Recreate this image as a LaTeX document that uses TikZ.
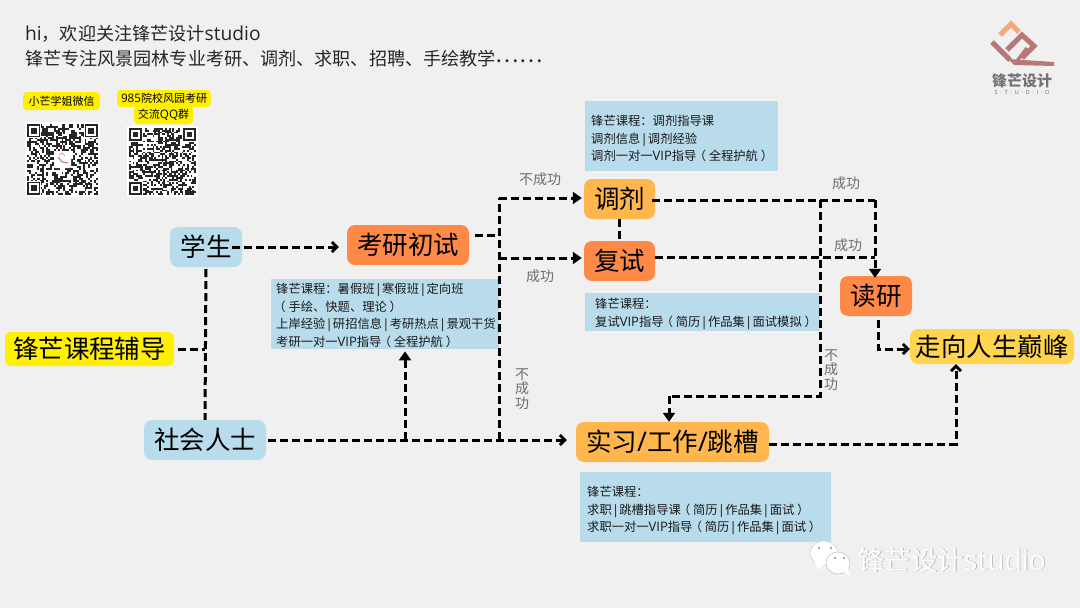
\documentclass[tikz,border=0pt]{standalone}
\usepackage{fontspec}
\setmainfont{Noto Sans CJK SC}
\newfontfamily\latf[Scale=1.06]{Open Sans}
\usetikzlibrary{arrows.meta,calc}
\definecolor{bgc}{HTML}{F0F0F0}
\definecolor{bluec}{HTML}{B9DCEC}
\definecolor{orangec}{HTML}{FF8A47}
\definecolor{ambc}{HTML}{FFB74D}
\definecolor{topc}{HTML}{FFD54F}
\definecolor{yelc}{HTML}{FFF000}
\definecolor{grayc}{HTML}{6E6E6E}
\definecolor{logob}{HTML}{B87878}
\definecolor{logoo}{HTML}{F5A878}
\newcommand{\La}[1]{{\latf #1}}
\newcommand{\sepb}{\hspace{0.2pt}\La{|}\hspace{0.2pt}}
\newcommand{\lpar}{\rlap{\hspace{-.22em}（}\hspace{1em}}
\newcommand{\rpar}{\rlap{\hspace{.22em}）}\hspace{1em}}
\tikzset{
  x=1pt,y=-1pt,
  stage/.style={rounded corners=8pt,inner sep=0pt,font=\fontsize{25.5}{28}\selectfont,text=black},
  bluestage/.style={stage,fill=bluec,minimum height=40pt},
  orangestage/.style={stage,fill=orangec,minimum height=40pt},
  ambstage/.style={stage,fill=ambc,minimum height=40pt},
  panel/.style={fill=bluec,inner sep=0pt,anchor=north west},
  paneltext/.style={inner sep=0pt,anchor=west,align=left,font=\fontsize{12.3}{17.5}\selectfont,text=black!90},
  tag/.style={fill=yelc,rounded corners=4pt,inner sep=0pt,font=\fontsize{11}{13}\selectfont,text=black},
  note/.style={font=\fontsize{14}{14.5}\selectfont,text=grayc,inner sep=0pt,align=center},
  conn/.style={line width=3pt,dash pattern=on 8pt off 4pt,black},
  solidhead/.style={-{Triangle[length=9pt,width=12pt]}},
  barbhead/.style={-{Straight Barb[length=5pt,width=10pt,line width=2.8pt]}},
  headline/.style={font=\fontsize{18.1}{25}\selectfont,anchor=west,inner sep=0pt,text=black!85},
}
\newcommand{\qrpic}[4]{% x, y, size, seed
  \pgfmathsetseed{#4}
  \fill[white] (#1-2,#2-2) rectangle (#1+#3+2,#2+#3+2);
  \pgfmathsetmacro{\qm}{#3/37}
  \foreach \qi in {0,...,36}{\foreach \qj in {0,...,36}{
    \pgfmathrandominteger{\qr}{0}{1}
    \ifnum\qr=1
      \fill[black!85] ({#1+\qi*\qm},{#2+\qj*\qm}) rectangle ++(\qm,\qm);
    \fi
  }}
  \foreach \qa/\qb in {0/0,30/0,0/30}{
    \fill[white] ({#1+(\qa-0.5)*\qm},{#2+(\qb-0.5)*\qm}) rectangle ++({8*\qm},{8*\qm});
    \fill[black!85] ({#1+\qa*\qm},{#2+\qb*\qm}) rectangle ++({7*\qm},{7*\qm});
    \fill[white] ({#1+(\qa+1)*\qm},{#2+(\qb+1)*\qm}) rectangle ++({5*\qm},{5*\qm});
    \fill[black!85] ({#1+(\qa+2)*\qm},{#2+(\qb+2)*\qm}) rectangle ++({3*\qm},{3*\qm});
  }
}
\begin{document}
\begin{tikzpicture}
\useasboundingbox (0,0) rectangle (1080,608);
\fill[bgc] (0,0) rectangle (1080,608);

% header
\node[headline] (h1) at (25,34) {\La{hi}，欢迎关注锋芒设计\La{studio}};
\node[headline] (h2) at (25,59) {锋芒专注风景园林专业考研、调剂、求职、招聘、手绘教学\raisebox{3.5pt}{\fontsize{22}{25}\selectfont……}};

% logo
\draw[logoo,line width=5pt,line join=miter] (1000,35) -- (1011,24) -- (1019,32);
\draw[logob,line width=5pt] (992,42) -- (1010,60);
\draw[logob,line width=5pt] (1007,50) -- (1022,35) -- (1034,46) -- (1022,58);
\draw[logob,line width=3.5pt] (1017,61) -- (1027,48);
\fill[logob] (1008,59) -- (1054,62) -- (1054,66) -- (1014,65) -- cycle;
\node[font=\fontsize{15}{17}\selectfont\bfseries,text=black!55,inner sep=0pt] (lg1) at (1022,81) {锋芒设计};
\node[font=\fontsize{5.5}{6}\selectfont\latf,text=black!55,inner sep=0pt] (lg2) at (1022,92) {S\hspace{2.6pt}·\hspace{2.6pt}T\hspace{2.6pt}·\hspace{2.6pt}U\hspace{2.6pt}·\hspace{2.6pt}D\hspace{2.6pt}·\hspace{2.6pt}I\hspace{2.6pt}·\hspace{2.6pt}O};

% QR codes
\node[tag,minimum width=77pt,minimum height=18pt] (t1) at (61.5,101) {小芒学姐微信};
\node[tag,minimum width=94pt,minimum height=17pt] (t2) at (164,98.5) {\La{985}院校风园考研};
\node[tag,minimum width=59pt,minimum height=18pt] (t3) at (163.5,115) {交流\La{QQ}群};
\qrpic{27}{124}{71}{11}
\qrpic{129}{128}{67}{29}
\fill[white,rounded corners=1pt] (54,151) rectangle (71,168);
\draw[logob,line width=1pt] (58,157) -- (62,162) -- (68,163);
\draw[logoo,line width=1pt] (59,155) -- (62,153) -- (65,156);

% panels
\node[panel,minimum width=193pt,minimum height=70pt] (p1) at (585,101) {};
\node[paneltext] (p1t) at (591,138.5) {锋芒课程：调剂指导课\\调剂信息\sepb 调剂经验\\调剂一对一\La{VIP}指导\lpar 全程护航\rpar};
\node[panel,minimum width=228pt,minimum height=70pt] (p2) at (271,279) {};
\node[paneltext] (p2t) at (276,315.5) {锋芒课程：暑假班\sepb 寒假班\sepb 定向班\\\lpar 手绘、快题、理论\rpar\\上岸经验\sepb 研招信息\sepb 考研热点\sepb 景观干货\\考研一对一\La{VIP}指导\lpar 全程护航\rpar};
\node[panel,minimum width=235pt,minimum height=38pt] (p3) at (585,293) {};
\node[paneltext] (p3t) at (595,314) {锋芒课程：\\复试\La{VIP}指导\lpar 简历\sepb 作品集\sepb 面试模拟\rpar};
\node[panel,minimum width=251pt,minimum height=70pt] (p4) at (580,472) {};
\node[paneltext] (p4t) at (587,510.5) {锋芒课程：\\求职\sepb 跳槽指导课\lpar 简历\sepb 作品集\sepb 面试\rpar\\求职一对一\La{VIP}指导\lpar 简历\sepb 作品集\sepb 面试\rpar};

% stages
\node[bluestage,minimum width=72pt] (xs) at (206,247) {学生};
\node[orangestage,minimum width=122pt] (ky) at (408,245) {考研初试};
\node[stage,fill=yelc,minimum width=169pt,minimum height=34pt,rounded corners=6pt] (fd) at (89.5,349) {锋芒课程辅导};
\node[bluestage,minimum width=122pt] (sh) at (205,440) {社会人士};
\node[ambstage,minimum width=71pt] (tj) at (619.5,199) {调剂};
\node[orangestage,minimum width=71pt] (fs) at (619.5,261) {复试};
\node[orangestage,minimum width=72pt] (dy) at (876,296) {读研};
\node[stage,fill=topc,minimum width=164pt,minimum height=35pt] (rs) at (992,346.5) {走向人生巅峰};
\node[ambstage,minimum width=193pt] (sx) at (672.5,442) {实习\La{/}工作\La{/}跳槽};

% junctions
\coordinate (ja) at (499,198);
\coordinate (jb) at (499,235);
\coordinate (jc) at (499,258);
\coordinate (jd) at (499,440);
\coordinate (je) at (405,440);
\coordinate (jf) at (820,200);
\coordinate (jg) at (875,200);
\coordinate (jh) at (875,257);
\coordinate (jj) at (820,396);
\coordinate (jk) at (669,396);
\coordinate (jl) at (878,349);
\coordinate (jm) at (956,444);
\coordinate (jn) at (205,349);

% connectors
\draw[conn,barbhead,shorten <=-10pt,shorten >=8pt] (xs.east) -- (xs.east -| ky.west);
\draw[conn,shorten <=2pt] (xs.south) -- (sh.north);
\draw[conn,shorten <=4pt] (fd.east) -- (jn);
\draw[conn,shorten <=6pt] (ky.east |- jb) -- (jb);
\draw[conn] (jd) -- (ja);
\draw[conn,solidhead,shorten >=2pt] (ja) -- (ja -| tj.west);
\draw[conn,solidhead,shorten >=2pt] (jc) -- (jc -| fs.west);
\draw[conn,barbhead,shorten <=2pt,shorten >=9pt] (sh.east) -- (sh.east -| sx.west);
\draw[conn,solidhead,shorten >=2pt] (je) -- (je |- p2.south);
\draw[conn] (tj.south) -- (fs.north);
\draw[conn,shorten <=-3pt] (jf -| tj.east) -- (jg);
\draw[conn,solidhead,shorten >=-2pt] (jg) -- (jg |- dy.north);
\draw[conn] (jh -| fs.east) -- (jh);
\draw[conn] (jf) -- (jj) -- (jk);
\draw[conn,solidhead] (jk) -- (jk |- sx.north);
\draw[conn,barbhead,shorten <=4pt] (jl |- dy.south) -- (jl) -- (jl -| rs.west);
\draw[conn,barbhead] (jm -| sx.east) -- (jm) -- (jm |- rs.south);

% labels
\node[note] (n1) at (540,179) {不成功};
\node[note] (n2) at (540,276) {成功};
\node[note] (n3) at (522,389) {不\\成\\功};
\node[note] (n4) at (846,183) {成功};
\node[note] (n5) at (848,245) {成功};
\node[note] (n6) at (831,370) {不\\成\\功};

% watermark
\fill[white,draw=black!20,line width=.5pt] (824,553) ellipse (14 and 12);
\fill[white] (815,561) -- (818,570) -- (826,563) -- cycle;
\fill[white,draw=black!25,line width=.5pt] (838,563) ellipse (12 and 11);
\fill[white] (843,571) -- (850,577) -- (848,568) -- cycle;
\foreach \wx/\wy in {819/548,831/548,835/558,844/558}{\fill[black!45] (\wx,\wy) circle (1.2);}
\node[font=\fontsize{26.5}{28}\selectfont,text=black!30,inner sep=0pt,anchor=west] (w0) at (858.8,560.8) {锋芒设计\La{studio}};
\node[font=\fontsize{26.5}{28}\selectfont,text=white,inner sep=0pt,anchor=west] (w1) at (858,560) {锋芒设计\La{studio}};
\end{tikzpicture}
\end{document}
